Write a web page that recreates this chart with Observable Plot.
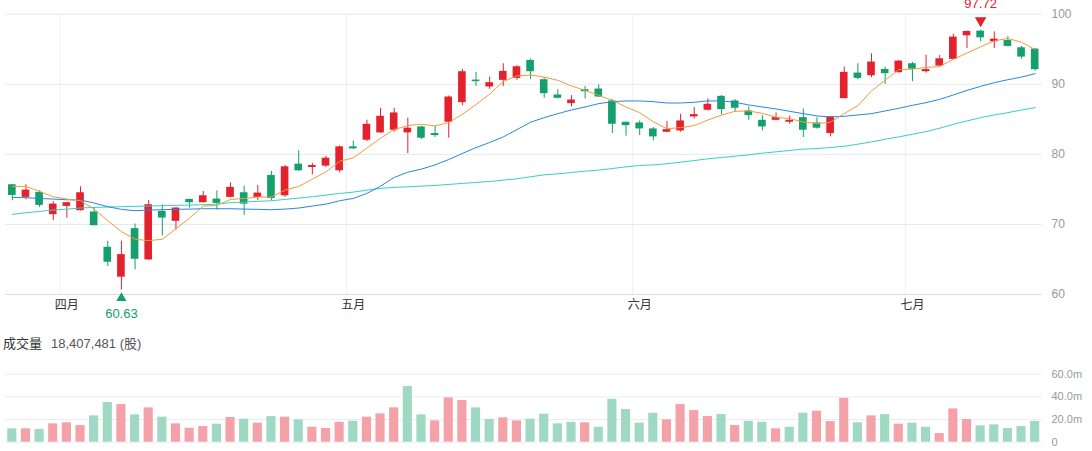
<!DOCTYPE html>
<html><head><meta charset="utf-8">
<script src="https://cdn.jsdelivr.net/npm/d3@7"></script>
<script src="https://cdn.jsdelivr.net/npm/@observablehq/plot@0.6"></script>
<style>
html,body{margin:0;padding:0;background:#fff;}
#root{position:relative;width:1092px;height:451px;overflow:hidden;font-family:"Liberation Sans","Noto Sans CJK SC",sans-serif;}
#root svg{position:absolute;left:0;}
#vol-title{position:absolute;left:3px;top:334px;font-size:13px;line-height:19px;color:#333;white-space:nowrap;}
#vol-title span{margin-left:9px;color:#555;}
</style></head><body><div id="root"><div id="vol-title"></div></div>
<script>
// ---- data ----
const monthNames = ["四月","五月","六月","七月"];
const monthStart = [4, 25, 46, 66];
const open = [75.66,73.86,74.57,71.39,72.57,71.96,71.77,66.74,62.47,69.4, 64.93,71.86,70.44,73.57,73.1,73.62,73.86,74.52,73.86,76.99, 74.09,78.6,78.13,78.32,77.65,81.07,82.02,83.06,83.44,83.06, 83.91,82.97,84.58,87.38,90.6,89.61,90.56,90.84,93.4,90.65, 88.47,87.24,89.23,89.32,87.62,84.58,84.48,83.63,83.15,83.34, 85.34,86.29,88.28,87.62,86.19,84.86,84.86,84.58,85.24,84.48, 82.97,87.95,91.6,91.22,92.12,91.65,92.93,91.79,92.6,93.55, 96.92,97.58,96.06,96.25,95.21,95.02];
const high = [75.7,75.66,74.8,73.24,73.15,75.37,72.43,67.6,67.6,70.06, 73.4,72.81,72.4,73.6,74.7,74.8,75.94,75.47,75.56,77.56, 78.41,80.5,78.7,79.74,81.21,81.92,84.86,86.57,86.57,85.15, 84.0,84.0,88.33,92.12,91.7,91.03,92.93,92.65,93.59,90.94, 89.23,88.38,89.7,89.89,87.81,84.6,84.77,83.82,84.67,85.72, 86.67,87.9,88.38,87.8,86.76,85.53,85.91,85.43,86.48,85.24, 85.4,92.46,92.93,94.35,92.46,93.4,93.12,94.16,94.12,97.11, 97.6,97.72,97.49,96.82,95.4,95.11];
const low = [73.38,73.52,72.43,70.53,70.87,71.9,69.8,63.99,60.63,63.5, 64.9,68.35,69.2,72.34,73.05,72.05,73.8,71.29,73.38,73.38, 73.86,77.56,77.08,78.13,77.37,80.69,81.83,82.97,83.15,80.12, 82.11,82.4,82.3,86.95,89.7,89.28,89.7,90.56,90.65,88.0, 87.9,86.76,87.9,88.09,82.97,82.59,82.68,81.92,83.1,83.15, 85.05,86.2,85.62,86.0,84.86,83.34,84.8,84.29,82.4,83.6, 82.49,87.9,90.65,90.94,89.99,91.6,90.37,91.6,92.55,93.5, 95.11,96.06,95.11,95.3,93.59,91.89];
const close = [74.14,74.9,72.72,72.9,73.1,74.52,69.82,64.6,65.69,65.03, 72.81,70.91,72.34,73.1,74.09,73.0,75.28,72.9,74.47,73.7, 78.22,77.65,78.41,79.45,81.07,80.78,84.29,85.43,85.91,83.73, 82.3,82.68,88.18,91.79,90.37,90.23,91.84,92.5,91.79,88.66, 88.0,87.76,88.94,88.18,84.29,84.1,83.63,82.49,83.53,84.77, 85.67,87.14,86.38,86.57,85.53,83.91,85.24,84.86,83.44,83.73, 85.34,91.7,90.84,93.17,91.51,93.31,92.15,92.1,93.64,96.73, 97.53,96.63,96.44,95.4,93.88,92.08];
// volume in millions of shares
const volume = [11.8,11.8,11.2,16.2,17.1,14.7,23.2,35.0,33.2,24.1, 30.3,22.1,16.2,12.3,13.8,15.9,21.8,20.3,16.8,22.6, 22.1,19.7,13.2,12.1,17.6,18.5,22.1,25.0,30.3,49.1, 24.1,18.8,39.1,36.8,30.3,20.0,21.5,18.8,20.3,24.7, 16.2,17.6,17.1,13.2,37.9,28.8,16.8,25.6,19.7,33.2, 27.9,22.6,24.4,14.7,18.5,17.6,11.8,13.2,25.6,27.3, 18.2,38.8,17.1,23.2,24.4,15.9,16.8,13.2,7.6,29.4, 20.0,14.4,15.3,12.1,13.8,18.407481];
const ma5 = [75.42,75.42,74.71,73.95,73.62,73.38,72.19,70.53,68.97,67.88, 67.69,67.88,69.4,70.9,72.62,72.7,73.57,73.7,73.9,73.92, 74.9,75.42,76.46,77.5,79.0,79.5,80.9,82.3,83.55,84.1, 84.3,84.06,84.53,85.72,87.1,88.6,90.4,91.2,91.32,91.03, 90.56,89.75,89.13,88.42,87.71,86.76,85.95,84.65,83.65,83.82, 84.1,84.9,85.6,86.15,86.19,85.85,85.3,85.1,84.6,84.39, 84.6,85.81,86.95,89.05,90.6,92.1,92.15,92.4,92.53,93.56, 94.45,95.35,96.2,96.54,96.0,94.95];
const ma20 = [73.86,73.81,73.71,73.62,73.52,73.48,73.05,72.53,72.15,71.96, 72.05,72.1,72.15,72.19,72.24,72.24,72.24,72.19,72.15,72.1, 72.19,72.34,72.62,72.9,73.38,73.71,74.42,75.47,76.7,77.46, 77.89,78.5,79.26,80.12,80.97,81.68,82.49,83.53,84.58,85.24, 85.81,86.33,86.76,87.24,87.52,87.62,87.62,87.52,87.33,87.33, 87.43,87.62,87.62,87.43,87.05,86.76,86.48,86.14,85.81,85.48, 85.34,85.43,85.62,85.81,86.19,86.57,87.0,87.38,87.85,88.47, 89.13,89.7,90.23,90.65,91.03,91.51];
const ma60 = [71.43,71.67,71.86,72.05,72.19,72.34,72.43,72.48,72.53,72.58, 72.62,72.67,72.72,72.76,72.81,72.9,73.1,73.19,73.29,73.38, 73.57,73.76,73.95,74.19,74.42,74.61,74.9,75.14,75.28,75.37, 75.47,75.56,75.71,75.85,75.99,76.13,76.32,76.51,76.8,77.08, 77.22,77.41,77.6,77.75,77.98,78.22,78.41,78.5,78.65,78.88, 79.12,79.36,79.55,79.74,79.93,80.17,80.36,80.55,80.74,80.83, 80.97,81.16,81.45,81.78,82.16,82.49,82.87,83.25,83.73,84.29, 84.77,85.24,85.62,85.95,86.33,86.67];
const priceTicks = [60, 70, 80, 90, 100];
const volumeTicks = [0, 20, 40, 60];
const volumeTitle = "成交量";
const volumeUnit = "(股)";

// ---- drawing ----
const N = close.length;
const idx = d3.range(N);
const UP = "#e3222e", DOWN = "#13a06c", UPV = "#f4a2a7", DOWNV = "#9fd8c3";
const candleColor = i => close[i] >= open[i] ? UP : DOWN;
const volColor = i => close[i] >= (i > 0 ? close[i - 1] : open[i]) ? UPV : DOWNV;
const FONT = '"Liberation Sans","Noto Sans CJK SC",sans-serif';
const W = 1092, ML = 5, MR = 50.5;
const xDomain = [-0.5, N - 0.5];
const bodyHalf = 0.28, volHalf = 0.335;
const iLow = d3.minIndex(low), iHigh = d3.maxIndex(high);

const price = Plot.plot({
  width: W, height: 325,
  marginTop: 13.7, marginBottom: 31, marginLeft: ML, marginRight: MR,
  x: {type: "linear", domain: xDomain, axis: null},
  y: {domain: [60, 100], axis: null},
  style: {fontFamily: FONT, background: "transparent", overflow: "visible"},
  marks: [
    Plot.ruleX(monthStart, {x: d => d - 0.5, stroke: "#eef0f5"}),
    Plot.ruleY(priceTicks.slice(1), {stroke: "#e6e8ee"}),
    Plot.ruleY(priceTicks.slice(0, 1), {stroke: "#d9dce3"}),
    Plot.ruleX(idx, {x: i => i, y1: i => low[i], y2: i => high[i], stroke: candleColor, strokeWidth: 1}),
    Plot.rect(idx, {x1: i => i - bodyHalf, x2: i => i + bodyHalf,
      y1: i => Math.min(open[i], close[i]), y2: i => Math.max(open[i], close[i]), fill: candleColor}),
    Plot.line(idx, {x: i => i, y: i => ma60[i], stroke: "#35d0c7", strokeWidth: 1}),
    Plot.line(idx, {x: i => i, y: i => ma20[i], stroke: "#2a86dd", strokeWidth: 1}),
    Plot.line(idx, {x: i => i, y: i => ma5[i], stroke: "#f39a3d", strokeWidth: 1}),
    Plot.text(monthStart, {x: d => d, text: (d, j) => monthNames[j], frameAnchor: "bottom", dy: 14, fill: "#333", fontSize: 12}),
    Plot.axisY(priceTicks, {anchor: "right", tickSize: 0, tickPadding: 9.5, fontSize: 12, color: "#999"}),
    Plot.dot([iLow], {x: i => i, y: i => low[i], symbol: "triangle", r: 3.8, fill: DOWN, stroke: "none", dy: 8}),
    Plot.text([iLow], {x: i => i, y: i => low[i], text: i => low[i].toFixed(2), dy: 24, fill: DOWN, fontSize: 13}),
    Plot.dot([iHigh], {x: i => i, y: i => high[i], symbol: "triangle", rotate: 180, r: 4.3, fill: UP, stroke: "none", dy: -9.5}),
    Plot.text([iHigh], {x: i => i, y: i => high[i], text: i => high[i].toFixed(2), dy: -26, fill: UP, fontSize: 13})
  ]
});
price.style.top = "0px";

const vol = Plot.plot({
  width: W, height: 91,
  marginTop: 13.7, marginBottom: 9.3, marginLeft: ML, marginRight: MR,
  x: {type: "linear", domain: xDomain, axis: null},
  y: {domain: [0, 60], axis: null},
  style: {fontFamily: FONT, background: "transparent", overflow: "visible"},
  marks: [
    Plot.ruleY(volumeTicks, {stroke: "#e8ecf3"}),
    Plot.rectY(idx, {x1: i => i - volHalf, x2: i => i + volHalf, y: i => volume[i], fill: volColor}),
    Plot.axisY(volumeTicks, {anchor: "right", tickSize: 0, tickPadding: 9.5, fontSize: 11, color: "#999",
      tickFormat: d => d === 0 ? "0" : d.toFixed(1) + "m"})
  ]
});
vol.style.top = "360px";

const root = document.getElementById("root");
root.appendChild(price);
root.appendChild(vol);
const title = document.getElementById("vol-title");
title.textContent = volumeTitle;
const num = document.createElement("span");
num.textContent = d3.format(",")(Math.round(volume[N - 1] * 1e6)) + " " + volumeUnit;
title.appendChild(num);
</script></body></html>
